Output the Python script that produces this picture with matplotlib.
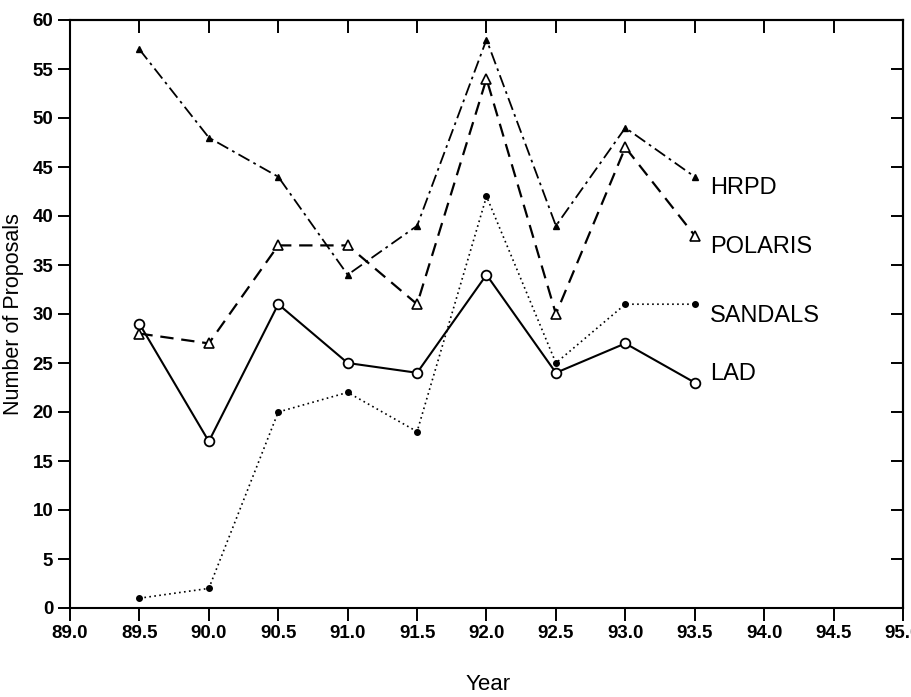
import matplotlib
matplotlib.use("Agg")
import matplotlib.pyplot as plt

plt.rcParams['font.family'] = ['Liberation Sans', 'DejaVu Sans']

years = [89.5, 90.0, 90.5, 91.0, 91.5, 92.0, 92.5, 93.0, 93.5]
hrpd = [57, 48, 44, 34, 39, 58, 39, 49, 44]
polaris = [28, 27, 37, 37, 31, 54, 30, 47, 38]
sandals = [1, 2, 20, 22, 18, 42, 25, 31, 31]
lad = [29, 17, 31, 25, 24, 34, 24, 27, 23]
series_names = ["HRPD", "POLARIS", "SANDALS", "LAD"]
xticks = [89.0, 89.5, 90.0, 90.5, 91.0, 91.5, 92.0, 92.5, 93.0, 93.5, 94.0, 94.5, 95.0]
yticks = list(range(0, 61, 5))

fig = plt.figure(figsize=(9.11, 6.97), dpi=100)
ax = fig.add_axes([70/911, 1-608/697, (903-70)/911, (608-20)/697])

ax.plot(years, hrpd, color='black', lw=1.3, dashes=(7, 2.5, 1.5, 2.5),
        marker='^', ms=5, mfc='black', mec='black')
ax.plot(years, polaris, color='black', lw=1.6, dashes=(6, 3.5),
        marker='^', ms=7, mfc='white', mec='black', mew=1.2)
ax.plot(years, sandals, color='black', lw=1.2, linestyle=(0, (1, 2)),
        marker='o', ms=4, mfc='black', mec='black')
ax.plot(years, lad, color='black', lw=1.5, linestyle='-',
        marker='o', ms=7, mfc='white', mec='black', mew=1.3)

last_vals = [hrpd[-1], polaris[-1], sandals[-1], lad[-1]]
offsets = [-1.1, -1.2, -1.2, 0.9]
for name, v, off in zip(series_names, last_vals, offsets):
    ax.text(years[-1] + 0.11, v + off, name, fontsize=17, va='center', ha='left')

ax.set_xlim(89.0, 95.0)
ax.set_ylim(0, 60)
ax.set_xticks(xticks)
ax.set_xticklabels([f"{t:.1f}" for t in xticks], fontsize=13.5, fontweight='bold')
ax.set_yticks(yticks)
ax.set_yticklabels([str(t) for t in yticks], fontsize=13.5, fontweight='bold')
ax.tick_params(axis='both', direction='out', length=9, width=1.4, pad=3,
               top=False, right=False)
for s in ax.spines.values():
    s.set_linewidth(1.5)

secx = ax.secondary_xaxis('top')
secx.set_xticks(xticks)
secx.tick_params(direction='in', length=9, width=1.4, labeltop=False)
secx.spines['top'].set_linewidth(1.5)
secy = ax.secondary_yaxis('right')
secy.set_yticks(yticks)
secy.tick_params(direction='in', length=9, width=1.4, labelright=False)
secy.spines['right'].set_linewidth(1.5)

ax.set_ylabel("Number of Proposals", fontsize=15.5, labelpad=6)
fig.text(488/911, 1-684/697, "Year", fontsize=16, ha='center', va='center')

fig.savefig("out.png", dpi=100)
